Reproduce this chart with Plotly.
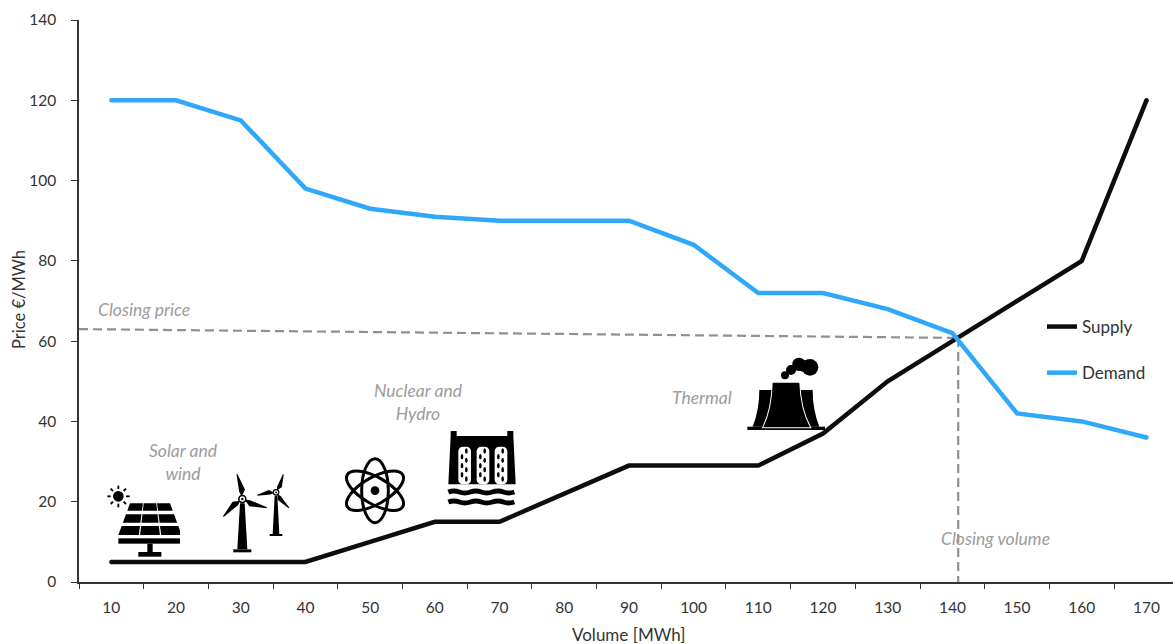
import base64
import plotly.graph_objects as go

# Merit-order curves: hourly bid volume against price
volume = [10, 20, 30, 40, 50, 60, 70, 80, 90, 100, 110, 120, 130, 140, 150, 160, 170]
supply = [5, 5, 5, 5, 10, 15, 15, 22, 29, 29, 29, 37, 50, 60, 70, 80, 120]
demand = [120, 120, 115, 98, 93, 91, 90, 90, 90, 84, 72, 72, 68, 62, 42, 40, 36]

closing_price_x = [5, 140.9]
closing_price_y = [63, 60.8]
closing_volume_x = [140.9, 140.9]
closing_volume_y = [60.8, 0]

WIDTH, HEIGHT = 1173, 644
LEFT, TOP, BOTTOM = 79, 20, 62
FONT = "Lato"
NOTE_GREY = "#9c9c9c"
TEXT = "#333333"
BLACK = "#0d0d0d"
BLUE = "#2fa8fb"
DASH_GREY = "#909090"


def px(x):
    return (x - LEFT) / (WIDTH - LEFT)


def py(y):
    return 1 - (y - TOP) / (HEIGHT - TOP - BOTTOM)


def icon(body, x0, y0, w, h, origin):
    """Place an SVG pictogram with its top-left corner at page pixel (x0, y0).

    The body is drawn at 3 units per pixel, relative to `origin`.
    """
    vx = (x0 - origin[0]) * 3
    vy = (y0 - origin[1]) * 3
    svg = (
        f'<svg xmlns="http://www.w3.org/2000/svg" width="{w*3}" height="{h*3}" '
        f'viewBox="{vx} {vy} {w*3} {h*3}">{body}</svg>'
    )
    uri = "data:image/svg+xml;base64," + base64.b64encode(svg.encode()).decode()
    return dict(
        source=uri, xref="paper", yref="paper", x=px(x0), y=py(y0),
        sizex=w / (WIDTH - LEFT), sizey=h / (HEIGHT - TOP - BOTTOM),
        xanchor="left", yanchor="top", sizing="stretch", layer="above",
    )


def poly(points, fill="#000"):
    return f'<polygon fill="{fill}" points="{" ".join(f"{a},{b}" for a, b in points)}"/>'


def rect(x0, y0, x1, y1, fill="#000"):
    return f'<rect x="{x0}" y="{y0}" width="{x1-x0}" height="{y1-y0}" fill="{fill}"/>'


def circle(x, y, r, fill="#000"):
    return f'<circle cx="{x}" cy="{y}" r="{r}" fill="{fill}"/>'


def solar_panel():
    parts = [circle(85, 229, 16)]
    rays = [(85, 197, 85, 207), (85, 251, 85, 262), (52, 229, 62, 229), (108, 229, 119, 229),
            (62, 206, 69, 213), (101, 245, 108, 252), (62, 252, 69, 245), (101, 213, 108, 206)]
    for a, b, c, d in rays:
        parts.append(f'<line x1="{a}" y1="{b}" x2="{c}" y2="{d}" stroke="#000" stroke-width="5.5"/>')
    rows = [(250, 272), (283, 308), (318, 345)]

    def edge(y, t):
        left = 120 - (y - 250) * 35 / 95
        right = 240 + (y - 250) * 35 / 95
        return left + (right - left) * t

    for top, bottom in rows:
        for c in range(3):
            t0, t1 = (c + 0.03) / 3 if c else 0, (c + 0.97) / 3 if c < 2 else 1
            parts.append(poly([(edge(top, t0), top), (edge(top, t1), top),
                               (edge(bottom, t1), bottom), (edge(bottom, t0), bottom)]))
    parts += [rect(85, 355, 275, 371), rect(172, 371, 188, 396), rect(145, 396, 214, 410)]
    return "".join(parts)


def turbine(hx, hy, tips, top_w, base_w, base_y, foot_w, foot_h, ring):
    parts = [poly([(hx - top_w, hy + ring), (hx + top_w, hy + ring),
                   (hx + base_w, base_y), (hx - base_w, base_y)]),
             rect(hx - foot_w, base_y, hx + foot_w, base_y + foot_h)]
    for tx, ty in tips:
        dx, dy = tx - hx, ty - hy
        length = (dx * dx + dy * dy) ** 0.5
        ux, uy = dx / length, dy / length
        nx, ny = -uy, ux
        parts.append(poly([
            (hx + ux * ring * 0.6, hy + uy * ring * 0.6),
            (hx + ux * length * 0.35 + nx * ring * 1.05, hy + uy * length * 0.35 + ny * ring * 1.05),
            (tx + nx * 1.5, ty + ny * 1.5), (tx - nx * 1.5, ty - ny * 1.5),
            (hx + ux * length * 0.3 - nx * ring * 0.35, hy + uy * length * 0.3 - ny * ring * 0.35),
        ]))
    parts += [circle(hx, hy, ring), circle(hx, hy, ring * 0.62, "#fff"), circle(hx, hy, ring * 0.28)]
    return "".join(parts)


def wind_turbines():
    large = turbine(457, 237, [(441, 163), (400, 290), (530, 263)], 7, 15, 388, 27, 9, 13)
    small = turbine(558, 217, [(580, 163), (502, 226), (597, 264)], 4, 10, 342, 19, 6, 10)
    return large + small


def atom():
    parts = []
    for angle in (90, 30, -30):
        parts.append(
            f'<ellipse cx="855" cy="212" rx="96" ry="40" fill="none" stroke="#000" '
            f'stroke-width="9" transform="rotate({angle} 855 212)"/>'
        )
    parts.append(circle(855, 212, 13))
    return "".join(parts)


def dam():
    parts = [
        poly([(1082, 48), (1082, 33), (1100, 33), (1100, 48), (1252, 48), (1252, 33), (1270, 33),
              (1270, 48), (1277, 193), (1075, 193)]),
    ]
    for cx in (1124, 1179, 1233):
        parts.append(f'<rect x="{cx-19}" y="80" width="38" height="113" rx="14" fill="#fff"/>')
        for i in range(4):
            parts.append(f'<ellipse cx="{cx+5}" cy="{93+i*28}" rx="4" ry="8"/>')
            if i < 3:
                parts.append(f'<ellipse cx="{cx-8}" cy="{110+i*27}" rx="4" ry="8"/>')
    wave = "M1075 {y} q17 -6 33 0 t33 0 t33 0 t33 0 t33 0 t33 0"
    for y in (216, 246):
        parts.append(f'<path d="{wave.format(y=y)}" fill="none" stroke="#000" stroke-width="15"/>')
    return "".join(parts)


def thermal():
    parts = [
        rect(52, 350, 285, 360),
        '<path d="M88 240 H150 V350 H68 Q88 300 88 240 Z"/>',
        '<path d="M248 240 H186 V350 H268 Q248 300 248 240 Z"/>',
        '<path d="M128 218 H208 Q210 295 240 352 H100 Q127 295 128 218 Z" '
        'stroke="#fff" stroke-width="6" paint-order="stroke"/>',
    ]
    for x, y, r in [(165, 196, 12), (183, 180, 15), (207, 163, 20), (240, 172, 25), (222, 168, 18)]:
        parts.append(circle(x, y, r))
    return "".join(parts)


fig = go.Figure()

fig.add_trace(go.Scatter(
    x=closing_price_x, y=closing_price_y, mode="lines", showlegend=False, hoverinfo="skip",
    line=dict(color=DASH_GREY, width=2.2, dash="9px,5px"),
))
fig.add_trace(go.Scatter(
    x=closing_volume_x, y=closing_volume_y, mode="lines", showlegend=False, hoverinfo="skip",
    line=dict(color=DASH_GREY, width=2.2, dash="9px,5px"),
))

for name, values, color in (("Supply", supply, BLACK), ("Demand", demand, BLUE)):
    fig.add_trace(go.Scatter(
        x=volume, y=values, mode="lines", name=name, legendgroup=name,
        line=dict(color=color, width=4.5),
    ))
    # Rounded ends of the curve
    fig.add_trace(go.Scatter(
        x=[volume[0], volume[-1]], y=[values[0], values[-1]], mode="markers",
        showlegend=False, legendgroup=name, hoverinfo="skip",
        marker=dict(color=color, size=4.5),
    ))

notes = [
    ("Closing price", 144, 309),
    ("Solar and<br>wind", 183, 462),
    ("Nuclear and<br>Hydro", 418, 402),
    ("Thermal", 702, 397),
    ("Closing volume", 995, 538),
]
annotations = [
    dict(text=text, x=px(x), y=py(y), xref="paper", yref="paper", showarrow=False,
         xanchor="center", yanchor="middle",
         font=dict(family=FONT, size=17.5, color=NOTE_GREY, style="italic"))
    for text, x, y in notes
]
annotations += [
    dict(text="Volume [MWh]", x=px(628), y=py(634), xref="paper", yref="paper", showarrow=False,
         xanchor="center", yanchor="middle", font=dict(family=FONT, size=17, color=TEXT)),
    dict(text="Price €/MWh", x=px(19), y=py(300), xref="paper", yref="paper", showarrow=False,
         textangle=-90, xanchor="center", yanchor="middle",
         font=dict(family=FONT, size=16.5, color=TEXT)),
]

origin_low = (90, 420)
origin_right = (730, 310)
images = [
    icon(solar_panel(), 105, 482, 75, 78, origin_low),
    icon(wind_turbines(), 220, 470, 70, 86, origin_low),
    icon(atom(), 342, 455, 66, 72, origin_low),
    icon(dam(), 445, 428, 72, 82, origin_low),
    icon(thermal(), 745, 355, 84, 78, origin_right),
]

fig.update_layout(
    width=WIDTH, height=HEIGHT,
    margin=dict(l=LEFT, r=0, t=TOP, b=BOTTOM, pad=0),
    paper_bgcolor="white", plot_bgcolor="white",
    font=dict(family=FONT, size=15.5, color=TEXT),
    showlegend=True,
    legend=dict(
        x=px(1042), y=py(309), xanchor="left", yanchor="top",
        bgcolor="rgba(0,0,0,0)", tracegroupgap=21,
        font=dict(family=FONT, size=17, color=TEXT),
    ),
    xaxis=dict(
        range=[5, 174.1], tick0=10, dtick=10, tickmode="linear", ticks="",
        ticklabelstandoff=11, showgrid=False, zeroline=False,
        showline=True, linecolor="#333333", linewidth=1.5,
        minor=dict(tick0=5, dtick=10, ticks="outside", ticklen=5, tickwidth=1.2,
                   tickcolor="#333333", showgrid=False),
    ),
    yaxis=dict(
        range=[0, 140], tick0=0, dtick=20, tickmode="linear", ticks="outside", ticklen=6,
        tickwidth=1.2, tickcolor="#333333", ticklabelstandoff=12, showgrid=False, zeroline=False,
        showline=True, linecolor="#333333", linewidth=1.5,
    ),
    annotations=annotations,
    images=images,
)

fig.write_html("out.html")
